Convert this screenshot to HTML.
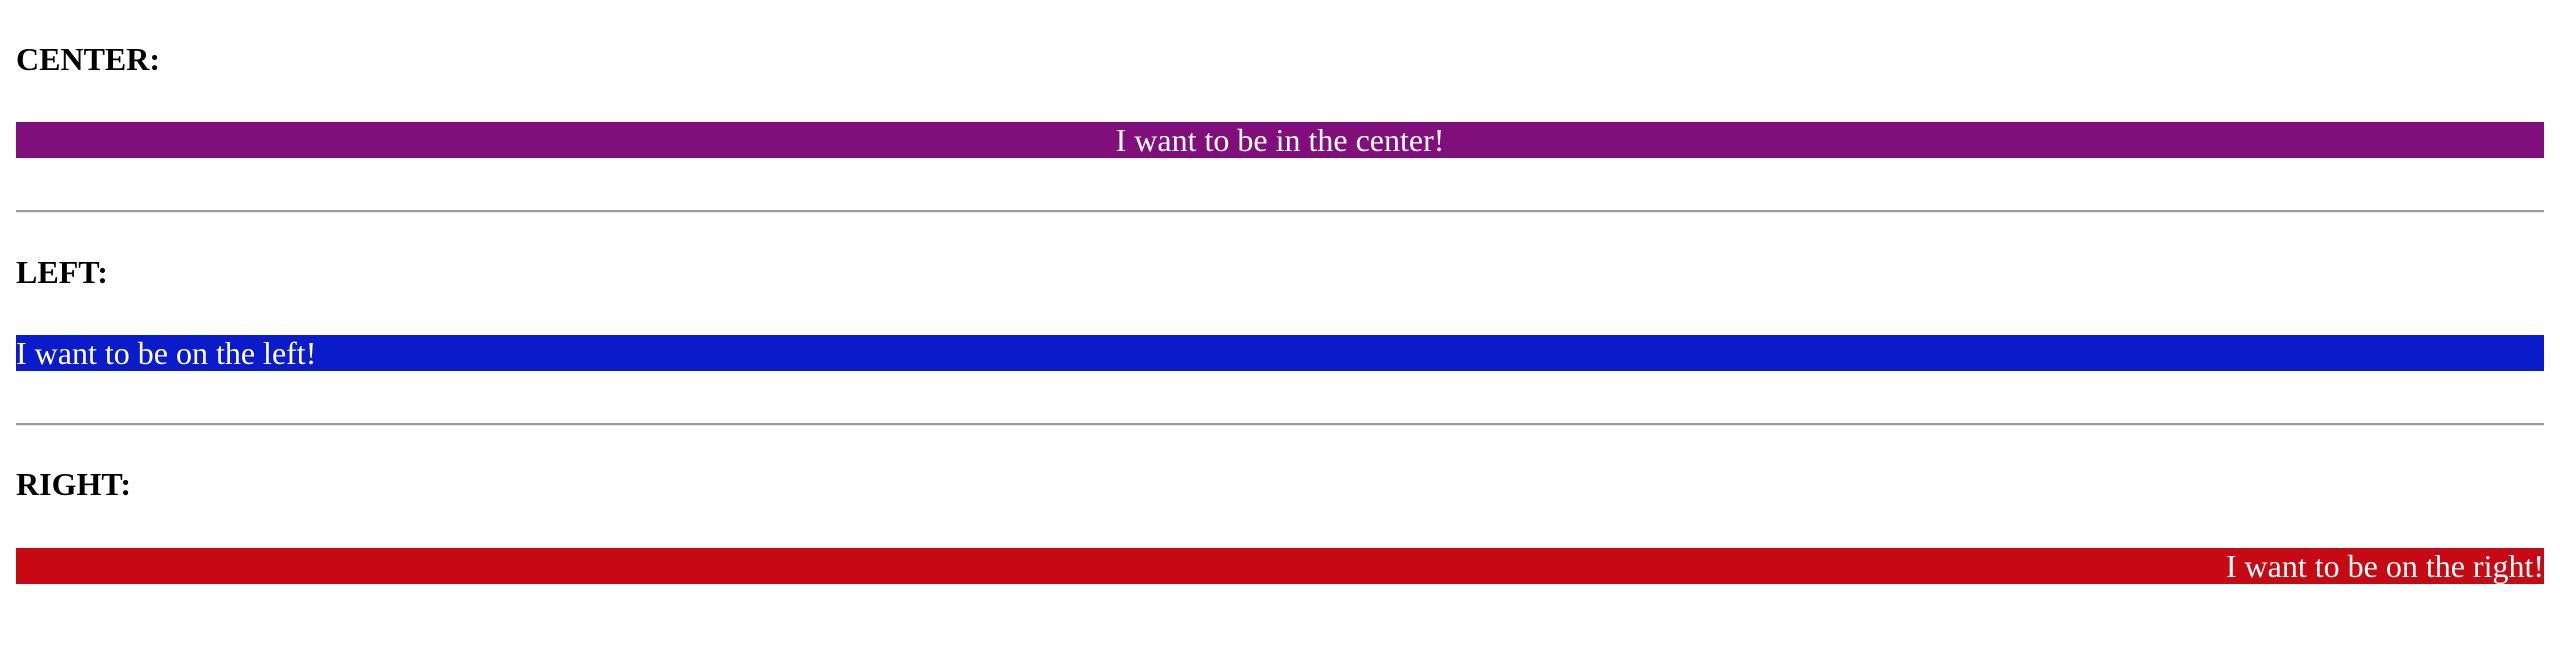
<!DOCTYPE html>
<html>
<head>
<meta charset="utf-8">
<style>
  html, body { margin:0; padding:0; background:#fff; width:2560px; height:648px; overflow:hidden; }
  body { position:relative; font-family:"Liberation Serif", "Times New Roman", serif; }
  .h { position:absolute; left:16px; font-size:32px; font-weight:bold; line-height:43px; color:#000; margin:0; }
  .bar { position:absolute; left:16px; width:2528px; height:36px; font-size:32px; line-height:36px; color:#fff; white-space:nowrap; }
  .hr { position:absolute; left:16px; width:2528px; height:2px; background:#9a9a9a; border-bottom:1px solid #ececec; }
</style>
</head>
<body>
  <h3 class="h" style="top:38px">CENTER:</h3>
  <div class="bar" style="top:122px;background:#800f7b;text-align:center">I want to be in the center!</div>
  <div class="hr" style="top:210px"></div>
  <h3 class="h" style="top:251px">LEFT:</h3>
  <div class="bar" style="top:335px;background:#0a1bc9;text-align:left">I want to be on the left!</div>
  <div class="hr" style="top:423px"></div>
  <h3 class="h" style="top:463px">RIGHT:</h3>
  <div class="bar" style="top:548px;background:#c70913;text-align:right">I want to be on the right!</div>
</body>
</html>
